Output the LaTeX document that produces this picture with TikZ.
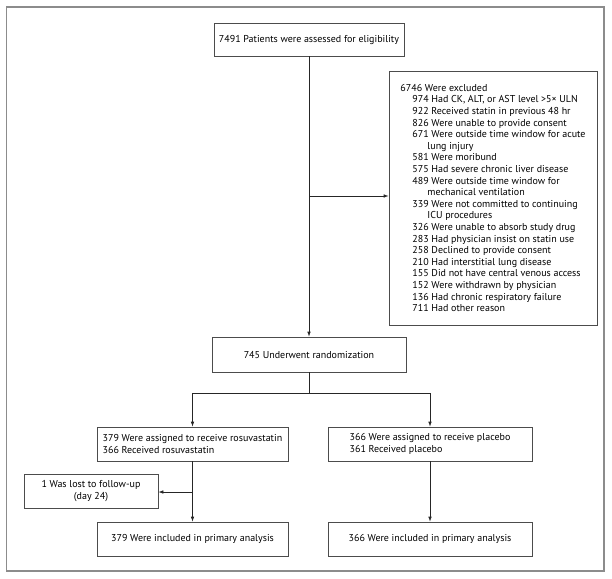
\documentclass[tikz,border=0pt]{standalone}
\usepackage{fontspec}
\setmainfont{PT Sans}
\usetikzlibrary{arrows.meta}
\newcommand{\exsub}{\hspace*{12pt}}
\newcommand{\excont}{\hspace*{27pt}}
\newcommand{\boxfont}{\fontsize{10}{11.6}\selectfont\setlength{\lineskiplimit}{-10pt}}
\tikzset{
  box/.style={draw=black!70, line width=0.7pt, inner sep=5pt, font=\boxfont},
  flow/.style={draw=black!85, line width=0.7pt, -{Latex[length=5pt,width=3.6pt]}}
}
\begin{document}
\begin{tikzpicture}[x=1pt,y=-1pt]
      \useasboundingbox (0,0) rectangle (612,578);
      \draw[black!45, line width=1.6pt] (6.5,7) rectangle (604,571);
      \draw
        (309,39.5) node[box, minimum width=190pt, minimum height=33pt] (elig){7491 Patients were assessed for eligibility}
        (493,198) node[box, minimum width=208pt, minimum height=254pt, align=left, inner sep=8pt] (excl){6746 Were excluded\\
          \exsub 974 Had CK, ALT, or AST level >5× ULN\\
          \exsub 922 Received statin in previous 48 hr\\
          \exsub 826 Were unable to provide consent\\
          \exsub 671 Were outside time window for acute\\
          \excont lung injury\\
          \exsub 581 Were moribund\\
          \exsub 575 Had severe chronic liver disease\\
          \exsub 489 Were outside time window for\\
          \excont mechanical ventilation\\
          \exsub 339 Were not committed to continuing\\
          \excont ICU procedures\\
          \exsub 326 Were unable to absorb study drug\\
          \exsub 283 Had physician insist on statin use\\
          \exsub 258 Declined to provide consent\\
          \exsub 210 Had interstitial lung disease\\
          \exsub 155 Did not have central venous access\\
          \exsub 152 Were withdrawn by physician\\
          \exsub 136 Had chronic respiratory failure\\
          \exsub 711 Had other reason}
        (309,354.5) node[box, minimum width=194pt, minimum height=35pt] (rand){745 Underwent randomization}
        (192.5,444) node[box, minimum width=191pt, minimum height=34pt, align=left] (rosu){379 Were assigned to receive rosuvastatin\\366 Received rosuvastatin}
        (430,444) node[box, minimum width=204pt, minimum height=34pt, align=left] (plac){366 Were assigned to receive placebo\\361 Received placebo}
        (91,491) node[box, minimum width=134pt, minimum height=34pt, align=center] (lost){1 Was lost to follow-up\\(day 24)}
        (192.5,539) node[box, minimum width=191pt, minimum height=34pt] (prim1){379 Were included in primary analysis}
        (430,539) node[box, minimum width=204pt, minimum height=34pt] (prim2){366 Were included in primary analysis};
      \coordinate (split) at (309,196);
      \coordinate (fork) at (309,393);
      \coordinate (drop) at (192.5,492);
      \begin{scope}[flow]
        \draw (elig) -- (rand);
        \draw (split) -- (excl.west |- split);
        \draw[-] (rand) -- (fork);
        \draw (fork) -| (rosu);
        \draw (fork) -| (plac);
        \draw (rosu) -- (prim1);
        \draw (drop) -- (lost.east |- drop);
        \draw (plac) -- (prim2);
      \end{scope}
    \end{tikzpicture}
\end{document}
